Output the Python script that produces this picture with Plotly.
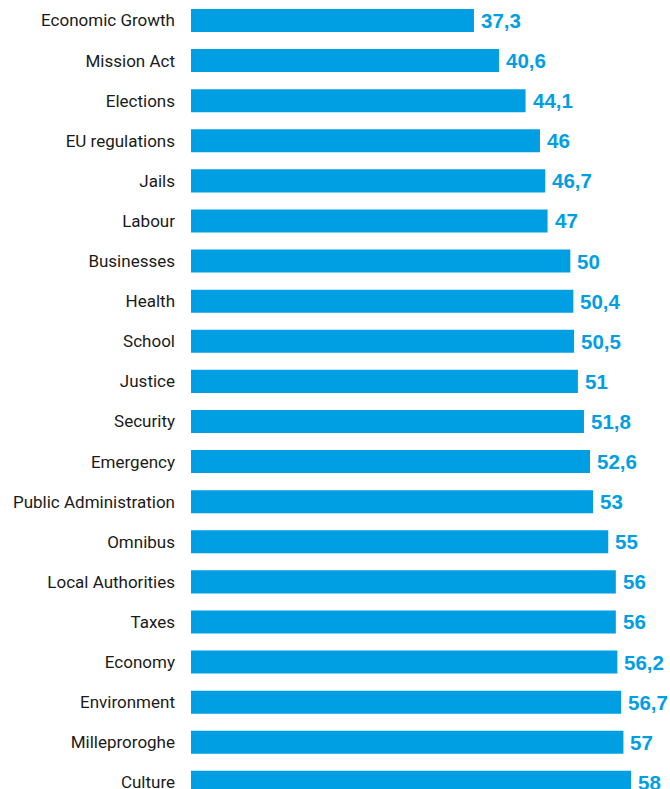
import plotly.graph_objects as go

categories = ["Economic Growth", "Mission Act", "Elections", "EU regulations", "Jails",
              "Labour", "Businesses", "Health", "School", "Justice", "Security",
              "Emergency", "Public Administration", "Omnibus", "Local Authorities",
              "Taxes", "Economy", "Environment", "Milleproroghe", "Culture"]
values = [37.3, 40.6, 44.1, 46, 46.7, 47, 50, 50.4, 50.5, 51, 51.8, 52.6, 53, 55,
          56, 56, 56.2, 56.7, 57, 58]
value_labels = [(f"{v:.1f}".rstrip("0").rstrip(".")).replace(".", ",") for v in values]

BLUE = "#009FE3"

fig = go.Figure(go.Bar(
    x=values, y=categories, orientation="h",
    marker=dict(color=BLUE, line=dict(width=0)),
    width=0.575,
    hoverinfo="skip",
))

for cat, v, lab in zip(categories, values, value_labels):
    fig.add_annotation(
        x=v, y=cat, text=f"<b>{lab}</b>", showarrow=False,
        xanchor="left", yanchor="middle", xshift=5, yshift=0,
        font=dict(family="Liberation Sans, Arial, sans-serif", size=20.5, color=BLUE),
    )

fig.update_layout(
    width=670, height=789,
    margin=dict(l=191, r=0, t=0, b=0, autoexpand=False),
    paper_bgcolor="white", plot_bgcolor="white",
    showlegend=False,
)
fig.update_xaxes(range=[0, 63.14], visible=False, fixedrange=True, automargin=False)
fig.update_yaxes(
    type="category", categoryorder="array", categoryarray=categories,
    range=[19.165, -0.511], automargin=False,
    showgrid=False, zeroline=False, showline=False, ticks="",
    ticklabelstandoff=15,
    tickfont=dict(family="Roboto, sans-serif", size=17, color="#1a1a1a"),
)

fig.write_html("out.html", config={"displayModeBar": False},
               post_script="document.body.style.margin='0';document.body.style.overflow='hidden';")
